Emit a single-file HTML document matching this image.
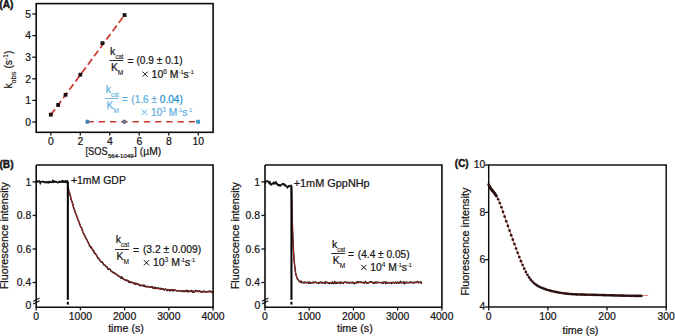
<!DOCTYPE html>
<html><head><meta charset="utf-8"><style>
html,body{margin:0;padding:0;background:#fff;}
svg{display:block;font-family:"Liberation Sans", sans-serif;}
text{stroke-width:0.22px;}
tspan[font-size]{stroke-width:0.1px;}
</style></head><body>
<svg width="675" height="336" viewBox="0 0 675 336">
<rect width="675" height="336" fill="#fff"/>
<text x="-0.70" y="8.30" font-size="10.2" text-anchor="start" fill="#161414" stroke="#161414" font-weight="bold" style="stroke-width:0.4px">(A)</text>
<rect x="36.2" y="3.6" width="176.89999999999998" height="128.70000000000002" fill="none" stroke="#0c0c0c" stroke-width="1.6"/>
<line x1="32.30" y1="122.00" x2="36.20" y2="122.00" stroke="#161414" stroke-width="1.3"/>
<text x="31.00" y="125.70" font-size="10.4" text-anchor="end" fill="#161414" stroke="#161414">0</text>
<line x1="32.30" y1="100.40" x2="36.20" y2="100.40" stroke="#161414" stroke-width="1.3"/>
<text x="31.00" y="104.10" font-size="10.4" text-anchor="end" fill="#161414" stroke="#161414">1</text>
<line x1="32.30" y1="78.80" x2="36.20" y2="78.80" stroke="#161414" stroke-width="1.3"/>
<text x="31.00" y="82.50" font-size="10.4" text-anchor="end" fill="#161414" stroke="#161414">2</text>
<line x1="32.30" y1="57.20" x2="36.20" y2="57.20" stroke="#161414" stroke-width="1.3"/>
<text x="31.00" y="60.90" font-size="10.4" text-anchor="end" fill="#161414" stroke="#161414">3</text>
<line x1="32.30" y1="35.60" x2="36.20" y2="35.60" stroke="#161414" stroke-width="1.3"/>
<text x="31.00" y="39.30" font-size="10.4" text-anchor="end" fill="#161414" stroke="#161414">4</text>
<line x1="32.30" y1="14.00" x2="36.20" y2="14.00" stroke="#161414" stroke-width="1.3"/>
<text x="31.00" y="17.70" font-size="10.4" text-anchor="end" fill="#161414" stroke="#161414">5</text>
<line x1="50.80" y1="132.30" x2="50.80" y2="135.60" stroke="#161414" stroke-width="1.3"/>
<text x="50.80" y="144.60" font-size="10.4" text-anchor="middle" fill="#161414" stroke="#161414">0</text>
<line x1="80.30" y1="132.30" x2="80.30" y2="135.60" stroke="#161414" stroke-width="1.3"/>
<text x="80.30" y="144.60" font-size="10.4" text-anchor="middle" fill="#161414" stroke="#161414">2</text>
<line x1="109.80" y1="132.30" x2="109.80" y2="135.60" stroke="#161414" stroke-width="1.3"/>
<text x="109.80" y="144.60" font-size="10.4" text-anchor="middle" fill="#161414" stroke="#161414">4</text>
<line x1="139.30" y1="132.30" x2="139.30" y2="135.60" stroke="#161414" stroke-width="1.3"/>
<text x="139.30" y="144.60" font-size="10.4" text-anchor="middle" fill="#161414" stroke="#161414">6</text>
<line x1="168.80" y1="132.30" x2="168.80" y2="135.60" stroke="#161414" stroke-width="1.3"/>
<text x="168.80" y="144.60" font-size="10.4" text-anchor="middle" fill="#161414" stroke="#161414">8</text>
<line x1="198.30" y1="132.30" x2="198.30" y2="135.60" stroke="#161414" stroke-width="1.3"/>
<text x="198.30" y="144.60" font-size="10.4" text-anchor="middle" fill="#161414" stroke="#161414">10</text>
<text x="85.40" y="154.90" font-size="10.4" text-anchor="start" fill="#161414" stroke="#161414" textLength="22.2" lengthAdjust="spacingAndGlyphs">[SOS</text>
<text x="107.90" y="158.00" font-size="6.2" text-anchor="start" fill="#161414" stroke="#161414" textLength="25.8" lengthAdjust="spacingAndGlyphs">564-1049</text>
<text x="134.00" y="154.90" font-size="10.4" text-anchor="start" fill="#161414" stroke="#161414" textLength="27.2" lengthAdjust="spacingAndGlyphs">] (µM)</text>
<text transform="translate(11.8,88.6) rotate(-90)" font-size="10.4" fill="#161414" stroke="#161414">k<tspan font-size="7.4" dy="4.0">obs</tspan><tspan dy="-4.0"> (s</tspan><tspan font-size="6.6" dy="-3.5">-1</tspan><tspan dy="3.5">)</tspan></text>
<line x1="50.80" y1="114.87" x2="124.99" y2="14.43" stroke="#cc3529" stroke-width="1.7" stroke-dasharray="7 3.4"/>
<line x1="87.50" y1="121.78" x2="195.10" y2="121.78" stroke="#cc3529" stroke-width="1.6" stroke-dasharray="6.3 4.95"/>
<rect x="48.90" y="112.76" width="3.8" height="3.8" fill="#1a0e0e"/>
<rect x="56.27" y="103.04" width="3.8" height="3.8" fill="#1a0e0e"/>
<rect x="63.65" y="92.88" width="3.8" height="3.8" fill="#1a0e0e"/>
<rect x="78.40" y="72.80" width="3.8" height="3.8" fill="#1a0e0e"/>
<rect x="100.52" y="41.26" width="3.8" height="3.8" fill="#1a0e0e"/>
<rect x="122.65" y="13.18" width="3.8" height="3.8" fill="#1a0e0e"/>
<circle cx="87.47" cy="121.68" r="2.2" fill="#4a86b4"/>
<circle cx="124.35" cy="121.68" r="2.2" fill="#70708c"/>
<circle cx="198.10" cy="121.68" r="2.2" fill="#3a9dcc"/>
<text x="110.10" y="54.80" font-size="10.6" fill="#161414" stroke="#161414">k<tspan font-size="6.6" dy="3.9" textLength="8.0" lengthAdjust="spacingAndGlyphs">cat</tspan></text>
<line x1="109.40" y1="60.50" x2="123.20" y2="60.50" stroke="#161414" stroke-width="0.9"/>
<text x="110.90" y="71.00" font-size="10.4" fill="#161414" stroke="#161414">K<tspan font-size="6.6" dy="4.1">M</tspan></text>
<text x="127.60" y="65.20" font-size="10.4" fill="#161414" stroke="#161414" textLength="6" lengthAdjust="spacingAndGlyphs">=</text>
<text x="136.50" y="64.40" font-size="10" text-anchor="start" fill="#161414" stroke="#161414" textLength="46.1" lengthAdjust="spacingAndGlyphs">(0.9 ± 0.1)</text>
<line x1="142.50" y1="71.60" x2="147.70" y2="76.80" stroke="#161414" stroke-width="1.0"/>
<line x1="142.50" y1="76.80" x2="147.70" y2="71.60" stroke="#161414" stroke-width="1.0"/>
<text x="151.60" y="77.60" font-size="10.4" fill="#161414" stroke="#161414" textLength="42.20" lengthAdjust="spacingAndGlyphs">10<tspan font-size="6.6" dy="-3.8">6</tspan><tspan dy="3.8"> M</tspan><tspan font-size="5.6" dy="-3.9">-1</tspan><tspan dy="3.9">s</tspan><tspan font-size="5.6" dy="-3.9">-1</tspan></text>
<text x="105.70" y="92.90" font-size="10.6" fill="#60b0dc" stroke="#60b0dc">k<tspan font-size="6.6" dy="3.9" textLength="8.0" lengthAdjust="spacingAndGlyphs">cat</tspan></text>
<line x1="105.00" y1="98.50" x2="118.70" y2="98.50" stroke="#60b0dc" stroke-width="0.9"/>
<text x="106.50" y="109.10" font-size="10.4" fill="#60b0dc" stroke="#60b0dc">K<tspan font-size="6.6" dy="4.1">M</tspan></text>
<text x="121.80" y="103.30" font-size="10.4" fill="#60b0dc" stroke="#60b0dc" textLength="6" lengthAdjust="spacingAndGlyphs">=</text>
<text x="131.30" y="102.50" font-size="10" fill="#60b0dc" stroke="#60b0dc" textLength="51.5" lengthAdjust="spacingAndGlyphs">(1.6 ± <tspan fill="#1a8dcc" stroke="#1a8dcc">0.04)</tspan></text>
<line x1="141.80" y1="109.70" x2="147.00" y2="114.90" stroke="#60b0dc" stroke-width="1.0"/>
<line x1="141.80" y1="114.90" x2="147.00" y2="109.70" stroke="#60b0dc" stroke-width="1.0"/>
<text x="150.90" y="115.70" font-size="10.4" fill="#60b0dc" stroke="#60b0dc" textLength="41.40" lengthAdjust="spacingAndGlyphs">10<tspan font-size="6.6" dy="-3.8">3</tspan><tspan dy="3.8"> M</tspan><tspan font-size="5.6" dy="-3.9">-1</tspan><tspan dy="3.9">s</tspan><tspan font-size="5.6" dy="-3.9">-1</tspan></text>
<text x="-0.60" y="168.10" font-size="10.2" text-anchor="start" fill="#161414" stroke="#161414" font-weight="bold" style="stroke-width:0.4px">(B)</text>
<path d="M36.2,165.0 L213.1,165.0 L213.1,307.3 L36.2,307.3 L36.2,165.0" fill="none" stroke="#0c0c0c" stroke-width="1.6"/>
<line x1="33.20" y1="301.20" x2="39.60" y2="297.90" stroke="#161414" stroke-width="1.15"/>
<line x1="33.20" y1="304.00" x2="39.60" y2="300.70" stroke="#161414" stroke-width="1.15"/>
<line x1="32.60" y1="181.90" x2="36.20" y2="181.90" stroke="#161414" stroke-width="1.3"/>
<text x="31.20" y="185.60" font-size="10.4" text-anchor="end" fill="#161414" stroke="#161414">1</text>
<line x1="32.60" y1="215.44" x2="36.20" y2="215.44" stroke="#161414" stroke-width="1.3"/>
<text x="31.20" y="219.14" font-size="10.4" text-anchor="end" fill="#161414" stroke="#161414">0.8</text>
<line x1="32.60" y1="248.98" x2="36.20" y2="248.98" stroke="#161414" stroke-width="1.3"/>
<text x="31.20" y="252.68" font-size="10.4" text-anchor="end" fill="#161414" stroke="#161414">0.6</text>
<line x1="32.60" y1="282.52" x2="36.20" y2="282.52" stroke="#161414" stroke-width="1.3"/>
<text x="31.20" y="286.22" font-size="10.4" text-anchor="end" fill="#161414" stroke="#161414">0.4</text>
<text x="31.40" y="308.90" font-size="10.4" text-anchor="end" fill="#161414" stroke="#161414">0</text>
<line x1="36.20" y1="307.30" x2="36.20" y2="310.40" stroke="#161414" stroke-width="1.3"/>
<text x="36.20" y="320.00" font-size="10.4" text-anchor="middle" fill="#161414" stroke="#161414">0</text>
<line x1="80.42" y1="307.30" x2="80.42" y2="310.40" stroke="#161414" stroke-width="1.3"/>
<text x="80.42" y="320.00" font-size="10.4" text-anchor="middle" fill="#161414" stroke="#161414">1000</text>
<line x1="124.64" y1="307.30" x2="124.64" y2="310.40" stroke="#161414" stroke-width="1.3"/>
<text x="124.64" y="320.00" font-size="10.4" text-anchor="middle" fill="#161414" stroke="#161414">2000</text>
<line x1="168.86" y1="307.30" x2="168.86" y2="310.40" stroke="#161414" stroke-width="1.3"/>
<text x="168.86" y="320.00" font-size="10.4" text-anchor="middle" fill="#161414" stroke="#161414">3000</text>
<line x1="213.08" y1="307.30" x2="213.08" y2="310.40" stroke="#161414" stroke-width="1.3"/>
<text x="213.08" y="320.00" font-size="10.4" text-anchor="middle" fill="#161414" stroke="#161414">4000</text>
<text x="126.05" y="331.90" font-size="10.4" text-anchor="middle" fill="#161414" stroke="#161414" textLength="35.8" lengthAdjust="spacingAndGlyphs">time (s)</text>
<text transform="translate(8.00,235.7) rotate(-90)" font-size="10.9" text-anchor="middle" fill="#161414" stroke="#161414" textLength="107.2" lengthAdjust="spacingAndGlyphs">Fluorescence intensity</text>
<path d="M36.20,183.12 L36.66,180.37 L37.12,182.15 L37.57,181.56 L38.03,181.63 L38.49,181.77 L38.95,180.69 L39.41,181.76 L39.87,181.38 L40.32,183.89 L40.78,182.04 L41.24,181.69 L41.70,181.73 L42.16,181.50 L42.62,181.27 L43.07,181.67 L43.53,182.19 L43.99,181.76 L44.45,182.47 L44.91,181.78 L45.36,181.91 L45.82,182.83 L46.28,182.23 L46.74,181.60 L47.20,181.79 L47.66,182.22 L48.11,183.06 L48.57,181.74 L49.03,181.75 L49.49,182.50 L49.95,181.37 L50.40,181.72 L50.86,182.43 L51.32,182.25 L51.78,181.95 L52.24,182.30 L52.70,180.20 L53.15,182.51 L53.61,181.32 L54.07,180.90 L54.53,182.07 L54.99,182.32 L55.45,181.63 L55.90,181.25 L56.36,181.92 L56.82,181.87 L57.28,182.74 L57.74,182.35 L58.19,182.02 L58.65,182.57 L59.11,181.78 L59.57,181.34 L60.03,182.25 L60.49,182.25 L60.94,181.77 L61.40,181.43 L61.86,182.04 L62.32,180.40 L62.78,182.31 L63.24,182.19 L63.69,180.92 L64.15,181.94 L64.61,181.32 L65.07,182.35 L65.53,180.68 L65.98,181.35 L66.44,182.33 L66.90,182.59 L67.36,180.61 L67.82,181.60" fill="none" stroke="#111" stroke-width="1.5" stroke-linejoin="round"/>
<path d="M67.82,187.08 L68.38,188.80 L68.94,191.89 L69.50,192.70 L70.06,195.41 L70.62,196.76 L71.18,199.80 L71.74,201.05 L72.30,202.75 L72.87,203.97 L73.43,207.28 L73.99,208.61 L74.55,210.32 L75.11,212.17 L75.67,213.46 L76.23,214.62 L76.79,216.13 L77.35,217.67 L77.91,220.16 L78.47,220.37 L79.03,222.21 L79.60,223.75 L80.16,225.39 L80.72,226.92 L81.28,227.43 L81.84,228.53 L82.40,230.59 L82.96,232.39 L83.52,233.42 L84.08,234.38 L84.64,235.32 L85.20,236.76 L85.76,237.65 L86.33,239.24 L86.89,239.60 L87.45,241.09 L88.01,242.02 L88.57,243.34 L89.13,244.20 L89.69,246.23 L90.25,246.72 L90.81,247.66 L91.37,246.99 L91.93,248.66 L92.50,249.43 L93.06,250.81 L93.62,250.40 L94.18,252.78 L94.74,253.55 L95.30,253.29 L95.86,254.22 L96.42,255.06 L96.98,256.20 L97.54,257.20 L98.10,258.56 L98.66,258.25 L99.23,259.38 L99.79,259.78 L100.35,261.17 L100.91,261.37 L101.47,262.29 L102.03,261.81 L102.59,262.82 L103.15,263.14 L103.71,264.77 L104.27,264.97 L104.83,265.10 L105.39,265.58 L105.96,266.55 L106.52,266.54 L107.08,266.96 L107.64,268.11 L108.20,269.50 L108.76,268.77 L109.32,269.10 L109.88,269.30 L110.44,269.68 L111.00,270.97 L111.56,271.56 L112.13,271.61 L112.69,272.18 L113.25,272.50 L113.81,272.91 L114.37,272.56 L114.93,273.43 L115.49,274.07 L116.05,274.04 L116.61,274.55 L117.17,274.75 L117.73,275.32 L118.29,276.20 L118.86,275.97 L119.42,276.41 L119.98,277.17 L120.54,277.42 L121.10,278.20 L121.66,276.80 L122.22,278.42 L122.78,278.11 L123.34,278.68 L123.90,279.28 L124.46,279.66 L125.03,279.91 L125.59,279.78 L126.15,280.69 L126.71,280.09 L127.27,280.40 L127.83,281.07 L128.39,280.70 L128.95,282.15 L129.51,281.87 L130.07,282.61 L130.63,281.84 L131.19,281.89 L131.76,282.35 L132.32,282.81 L132.88,282.42 L133.44,283.05 L134.00,283.07 L134.56,283.99 L135.12,283.15 L135.68,284.11 L136.24,283.52 L136.80,283.56 L137.36,283.84 L137.92,283.79 L138.49,284.56 L139.05,285.12 L139.61,284.89 L140.17,285.25 L140.73,285.85 L141.29,285.39 L141.85,285.50 L142.41,285.43 L142.97,284.97 L143.53,286.17 L144.09,285.17 L144.66,286.39 L145.22,286.22 L145.78,286.86 L146.34,286.44 L146.90,286.22 L147.46,286.87 L148.02,286.58 L148.58,286.86 L149.14,287.07 L149.70,287.10 L150.26,287.18 L150.82,287.00 L151.39,287.39 L151.95,286.61 L152.51,287.60 L153.07,287.23 L153.63,288.37 L154.19,288.53 L154.75,287.17 L155.31,288.20 L155.87,288.17 L156.43,287.84 L156.99,288.63 L157.55,288.27 L158.12,287.76 L158.68,288.51 L159.24,288.64 L159.80,288.83 L160.36,288.31 L160.92,289.21 L161.48,289.33 L162.04,288.56 L162.60,288.84 L163.16,289.17 L163.72,289.02 L164.29,290.12 L164.85,289.49 L165.41,289.00 L165.97,289.17 L166.53,289.55 L167.09,290.67 L167.65,289.61 L168.21,289.81 L168.77,290.03 L169.33,289.84 L169.89,290.93 L170.45,289.72 L171.02,290.34 L171.58,290.13 L172.14,290.38 L172.70,289.62 L173.26,290.99 L173.82,290.19 L174.38,290.30 L174.94,289.91 L175.50,290.04 L176.06,290.67 L176.62,290.90 L177.18,290.83 L177.75,291.08 L178.31,290.89 L178.87,290.62 L179.43,291.02 L179.99,290.95 L180.55,290.67 L181.11,291.08 L181.67,291.36 L182.23,290.92 L182.79,290.69 L183.35,291.21 L183.92,291.77 L184.48,290.85 L185.04,290.93 L185.60,290.94 L186.16,291.58 L186.72,290.23 L187.28,291.25 L187.84,291.65 L188.40,290.78 L188.96,291.84 L189.52,291.43 L190.08,290.97 L190.65,291.33 L191.21,290.58 L191.77,291.03 L192.33,292.13 L192.89,290.93 L193.45,292.19 L194.01,291.34 L194.57,291.85 L195.13,291.44 L195.69,290.43 L196.25,291.20 L196.82,291.56 L197.38,290.98 L197.94,290.91 L198.50,291.70 L199.06,291.26 L199.62,290.81 L200.18,291.28 L200.74,291.99 L201.30,291.41 L201.86,292.06 L202.42,292.34 L202.98,291.68 L203.55,291.18 L204.11,291.11 L204.67,291.70 L205.23,292.12 L205.79,291.86 L206.35,292.00 L206.91,291.57 L207.47,291.92 L208.03,291.58 L208.59,291.66 L209.15,291.24 L209.71,291.12 L210.28,291.63 L210.84,291.36 L211.40,291.43 L211.96,292.18 L212.52,291.84 L213.08,293.21" fill="none" stroke="#1a1010" stroke-width="1.5" stroke-linejoin="round"/>
<path d="M67.82,186.93 L68.55,189.71 L69.28,192.42 L70.01,195.06 L70.74,197.63 L71.47,200.13 L72.20,202.57 L72.93,204.94 L73.66,207.25 L74.39,209.49 L75.12,211.68 L75.85,213.81 L76.58,215.89 L77.31,217.91 L78.04,219.87 L78.77,221.79 L79.50,223.65 L80.23,225.47 L80.96,227.23 L81.69,228.95 L82.42,230.63 L83.15,232.26 L83.88,233.84 L84.61,235.39 L85.34,236.89 L86.07,238.36 L86.80,239.79 L87.53,241.17 L88.26,242.53 L88.99,243.84 L89.72,245.12 L90.45,246.37 L91.18,247.59 L91.91,248.77 L92.64,249.92 L93.37,251.04 L94.10,252.14 L94.83,253.20 L95.56,254.23 L96.29,255.24 L97.02,256.22 L97.75,257.18 L98.48,258.11 L99.21,259.01 L99.94,259.89 L100.67,260.75 L101.40,261.59 L102.13,262.40 L102.86,263.19 L103.59,263.96 L104.32,264.71 L105.05,265.44 L105.78,266.16 L106.51,266.85 L107.24,267.52 L107.97,268.18 L108.70,268.82 L109.43,269.44 L110.16,270.05 L110.89,270.64 L111.62,271.21 L112.35,271.77 L113.08,272.32 L113.80,272.85 L114.53,273.36 L115.26,273.87 L115.99,274.36 L116.72,274.83 L117.45,275.30 L118.18,275.75 L118.91,276.19 L119.64,276.62 L120.37,277.03 L121.10,277.44 L121.83,277.83 L122.56,278.22 L123.29,278.59 L124.02,278.96 L124.75,279.31 L125.48,279.66 L126.21,280.00 L126.94,280.32 L127.67,280.64 L128.40,280.95 L129.13,281.26 L129.86,281.55 L130.59,281.84 L131.32,282.12 L132.05,282.39 L132.78,282.65 L133.51,282.91 L134.24,283.16 L134.97,283.40 L135.70,283.64 L136.43,283.87 L137.16,284.10 L137.89,284.32 L138.62,284.53 L139.35,284.74 L140.08,284.94 L140.81,285.14 L141.54,285.33 L142.27,285.52 L143.00,285.70 L143.73,285.88 L144.46,286.05 L145.19,286.22 L145.92,286.38 L146.65,286.54 L147.38,286.70 L148.11,286.85 L148.84,286.99 L149.57,287.14 L150.30,287.28 L151.03,287.41 L151.76,287.54 L152.49,287.67 L153.22,287.80 L153.95,287.92 L154.68,288.04 L155.41,288.15 L156.14,288.27 L156.87,288.38 L157.60,288.48 L158.33,288.59 L159.06,288.69 L159.79,288.79 L160.52,288.88 L161.25,288.97 L161.98,289.06 L162.71,289.15 L163.44,289.24 L164.17,289.32 L164.90,289.40 L165.63,289.48 L166.36,289.56 L167.09,289.64 L167.82,289.71 L168.55,289.78 L169.28,289.85 L170.01,289.92 L170.74,289.98 L171.47,290.05 L172.20,290.11 L172.93,290.17 L173.66,290.23 L174.39,290.29 L175.12,290.34 L175.85,290.40 L176.58,290.45 L177.31,290.50 L178.04,290.55 L178.77,290.60 L179.50,290.65 L180.23,290.70 L180.96,290.74 L181.69,290.79 L182.42,290.83 L183.15,290.87 L183.88,290.91 L184.61,290.95 L185.34,290.99 L186.07,291.03 L186.80,291.07 L187.53,291.10 L188.26,291.14 L188.99,291.17 L189.72,291.20 L190.45,291.23 L191.18,291.27 L191.91,291.30 L192.64,291.32 L193.37,291.35 L194.10,291.38 L194.83,291.41 L195.56,291.44 L196.29,291.46 L197.02,291.49 L197.75,291.51 L198.48,291.53 L199.21,291.56 L199.94,291.58 L200.67,291.60 L201.40,291.62 L202.13,291.64 L202.86,291.67 L203.59,291.68 L204.32,291.70 L205.05,291.72 L205.78,291.74 L206.51,291.76 L207.24,291.78 L207.97,291.79 L208.70,291.81 L209.43,291.83 L210.16,291.84 L210.89,291.86 L211.62,291.87 L212.35,291.89 L213.08,291.90" fill="none" stroke="#b02a25" stroke-width="1.0" stroke-linejoin="round"/>
<line x1="67.82" y1="181.60" x2="67.82" y2="299.80" stroke="#000" stroke-width="2.0"/>
<line x1="67.82" y1="301.80" x2="67.82" y2="304.60" stroke="#000" stroke-width="2.0"/>
<text x="70.90" y="183.60" font-size="10.4" text-anchor="start" fill="#161414" stroke="#161414" textLength="55" lengthAdjust="spacingAndGlyphs">+1mM GDP</text>
<text x="115.80" y="243.40" font-size="10.6" fill="#161414" stroke="#161414">k<tspan font-size="6.6" dy="3.9" textLength="8.0" lengthAdjust="spacingAndGlyphs">cat</tspan></text>
<line x1="115.10" y1="249.50" x2="128.90" y2="249.50" stroke="#161414" stroke-width="0.9"/>
<text x="116.60" y="259.60" font-size="10.4" fill="#161414" stroke="#161414">K<tspan font-size="6.6" dy="4.1">M</tspan></text>
<text x="132.90" y="253.80" font-size="10.4" fill="#161414" stroke="#161414" textLength="6" lengthAdjust="spacingAndGlyphs">=</text>
<text x="142.90" y="253.00" font-size="10" text-anchor="start" fill="#161414" stroke="#161414" textLength="58.2" lengthAdjust="spacingAndGlyphs">(3.2 ± 0.009)</text>
<line x1="143.90" y1="260.20" x2="149.10" y2="265.40" stroke="#161414" stroke-width="1.0"/>
<line x1="143.90" y1="265.40" x2="149.10" y2="260.20" stroke="#161414" stroke-width="1.0"/>
<text x="153.00" y="266.20" font-size="10.4" fill="#161414" stroke="#161414" textLength="42.20" lengthAdjust="spacingAndGlyphs">10<tspan font-size="6.6" dy="-3.8">3</tspan><tspan dy="3.8"> M</tspan><tspan font-size="5.6" dy="-3.9">-1</tspan><tspan dy="3.9">s</tspan><tspan font-size="5.6" dy="-3.9">-1</tspan></text>
<path d="M265.0,165.0 L441.9,165.0 L441.9,307.3 L265.0,307.3 L265.0,165.0" fill="none" stroke="#0c0c0c" stroke-width="1.6"/>
<line x1="262.00" y1="301.20" x2="268.40" y2="297.90" stroke="#161414" stroke-width="1.15"/>
<line x1="262.00" y1="304.00" x2="268.40" y2="300.70" stroke="#161414" stroke-width="1.15"/>
<line x1="261.40" y1="181.90" x2="265.00" y2="181.90" stroke="#161414" stroke-width="1.3"/>
<text x="260.00" y="185.60" font-size="10.4" text-anchor="end" fill="#161414" stroke="#161414">1</text>
<line x1="261.40" y1="215.44" x2="265.00" y2="215.44" stroke="#161414" stroke-width="1.3"/>
<text x="260.00" y="219.14" font-size="10.4" text-anchor="end" fill="#161414" stroke="#161414">0.8</text>
<line x1="261.40" y1="248.98" x2="265.00" y2="248.98" stroke="#161414" stroke-width="1.3"/>
<text x="260.00" y="252.68" font-size="10.4" text-anchor="end" fill="#161414" stroke="#161414">0.6</text>
<line x1="261.40" y1="282.52" x2="265.00" y2="282.52" stroke="#161414" stroke-width="1.3"/>
<text x="260.00" y="286.22" font-size="10.4" text-anchor="end" fill="#161414" stroke="#161414">0.4</text>
<text x="260.20" y="308.90" font-size="10.4" text-anchor="end" fill="#161414" stroke="#161414">0</text>
<line x1="265.00" y1="307.30" x2="265.00" y2="310.40" stroke="#161414" stroke-width="1.3"/>
<text x="265.00" y="320.00" font-size="10.4" text-anchor="middle" fill="#161414" stroke="#161414">0</text>
<line x1="309.22" y1="307.30" x2="309.22" y2="310.40" stroke="#161414" stroke-width="1.3"/>
<text x="309.22" y="320.00" font-size="10.4" text-anchor="middle" fill="#161414" stroke="#161414">1000</text>
<line x1="353.44" y1="307.30" x2="353.44" y2="310.40" stroke="#161414" stroke-width="1.3"/>
<text x="353.44" y="320.00" font-size="10.4" text-anchor="middle" fill="#161414" stroke="#161414">2000</text>
<line x1="397.66" y1="307.30" x2="397.66" y2="310.40" stroke="#161414" stroke-width="1.3"/>
<text x="397.66" y="320.00" font-size="10.4" text-anchor="middle" fill="#161414" stroke="#161414">3000</text>
<line x1="441.88" y1="307.30" x2="441.88" y2="310.40" stroke="#161414" stroke-width="1.3"/>
<text x="441.88" y="320.00" font-size="10.4" text-anchor="middle" fill="#161414" stroke="#161414">4000</text>
<text x="354.85" y="331.90" font-size="10.4" text-anchor="middle" fill="#161414" stroke="#161414" textLength="35.8" lengthAdjust="spacingAndGlyphs">time (s)</text>
<text transform="translate(239.00,235.7) rotate(-90)" font-size="10.9" text-anchor="middle" fill="#161414" stroke="#161414" textLength="107.2" lengthAdjust="spacingAndGlyphs">Fluorescence intensity</text>
<path d="M265.00,181.68 L265.38,183.46 L265.77,181.57 L266.15,181.68 L266.53,181.02 L266.92,180.75 L267.30,181.28 L267.68,181.52 L268.07,181.29 L268.45,181.29 L268.83,182.95 L269.22,182.22 L269.60,183.88 L269.98,181.64 L270.37,184.10 L270.75,184.39 L271.13,183.91 L271.52,185.05 L271.90,184.04 L272.28,183.87 L272.66,183.37 L273.05,183.65 L273.43,182.31 L273.81,183.95 L274.20,182.83 L274.58,183.08 L274.96,183.78 L275.35,182.46 L275.73,181.67 L276.11,183.05 L276.50,183.98 L276.88,183.09 L277.26,184.20 L277.65,185.00 L278.03,185.47 L278.41,184.54 L278.80,185.36 L279.18,185.77 L279.56,184.74 L279.95,185.71 L280.33,185.08 L280.71,185.91 L281.10,184.77 L281.48,184.47 L281.86,184.48 L282.25,184.13 L282.63,183.54 L283.01,183.59 L283.40,184.31 L283.78,183.76 L284.16,185.35 L284.55,184.31 L284.93,185.77 L285.31,185.14 L285.69,186.05 L286.08,185.43 L286.46,186.61 L286.84,186.49 L287.23,186.93 L287.61,187.91 L287.99,186.39 L288.38,187.01 L288.76,185.83 L289.14,185.72 L289.53,186.29 L289.91,185.81 L290.29,186.03 L290.68,185.84 L291.06,185.27 L291.44,185.49" fill="none" stroke="#111" stroke-width="1.5" stroke-linejoin="round"/>
<path d="M291.44,187.65 L291.95,210.43 L292.45,227.91 L292.96,240.44 L293.46,251.27 L293.96,258.21 L294.47,264.00 L294.97,267.80 L295.48,272.16 L295.98,275.01 L296.48,276.09 L296.99,277.99 L297.49,279.08 L298.00,279.36 L298.50,280.43 L299.00,281.12 L299.51,281.46 L300.01,282.05 L300.52,281.64 L301.02,281.01 L301.52,282.51 L302.03,282.25 L302.53,282.48 L303.04,282.81 L303.54,282.76 L304.04,282.45 L304.55,282.01 L305.05,282.98 L305.56,282.40 L306.06,282.64 L306.56,282.57 L307.07,282.41 L307.57,282.34 L308.08,282.04 L308.58,283.36 L309.08,282.52 L309.59,282.15 L310.09,283.31 L310.60,283.13 L311.10,282.56 L311.60,282.92 L312.11,282.54 L312.61,282.79 L313.12,282.13 L313.62,282.99 L314.12,282.35 L314.63,282.38 L315.13,282.26 L315.64,282.04 L316.14,282.52 L316.64,283.01 L317.15,282.71 L317.65,282.64 L318.16,282.58 L318.66,283.33 L319.16,283.01 L319.67,282.37 L320.17,282.82 L320.68,281.94 L321.18,282.42 L321.68,283.02 L322.19,283.01 L322.69,282.40 L323.20,282.81 L323.70,282.56 L324.20,282.91 L324.71,282.39 L325.21,283.43 L325.72,281.68 L326.22,282.54 L326.72,282.53 L327.23,282.31 L327.73,282.70 L328.24,283.20 L328.74,282.97 L329.24,283.58 L329.75,282.77 L330.25,282.89 L330.76,282.74 L331.26,283.30 L331.76,282.73 L332.27,281.93 L332.77,283.20 L333.28,283.47 L333.78,282.79 L334.28,283.11 L334.79,281.57 L335.29,282.40 L335.80,283.45 L336.30,282.46 L336.80,283.15 L337.31,282.19 L337.81,282.92 L338.32,282.44 L338.82,282.98 L339.32,282.37 L339.83,282.52 L340.33,283.54 L340.84,282.06 L341.34,282.47 L341.84,282.77 L342.35,282.43 L342.85,282.66 L343.36,283.38 L343.86,282.50 L344.36,282.20 L344.87,282.04 L345.37,282.12 L345.88,282.54 L346.38,282.30 L346.88,282.91 L347.39,282.46 L347.89,282.25 L348.40,282.44 L348.90,283.04 L349.40,282.95 L349.91,282.44 L350.41,282.27 L350.92,282.84 L351.42,282.72 L351.92,283.02 L352.43,282.08 L352.93,282.52 L353.44,282.97 L353.94,282.68 L354.44,283.83 L354.95,282.60 L355.45,282.42 L355.96,282.64 L356.46,282.98 L356.96,282.01 L357.47,282.67 L357.97,281.56 L358.48,282.56 L358.98,282.01 L359.48,282.19 L359.99,282.49 L360.49,281.93 L361.00,282.01 L361.50,282.29 L362.00,282.51 L362.51,282.52 L363.01,282.85 L363.52,282.40 L364.02,283.26 L364.52,282.35 L365.03,282.21 L365.53,281.64 L366.04,282.72 L366.54,283.12 L367.04,282.75 L367.55,283.04 L368.05,283.14 L368.56,282.75 L369.06,282.36 L369.56,282.57 L370.07,281.94 L370.57,282.00 L371.08,281.76 L371.58,281.80 L372.08,282.51 L372.59,282.64 L373.09,282.55 L373.60,283.33 L374.10,282.32 L374.60,283.17 L375.11,282.97 L375.61,281.98 L376.12,282.64 L376.62,283.00 L377.12,282.16 L377.63,282.59 L378.13,282.28 L378.64,282.65 L379.14,282.49 L379.64,282.38 L380.15,282.60 L380.65,282.66 L381.16,282.78 L381.66,282.76 L382.16,282.91 L382.67,282.15 L383.17,283.30 L383.68,282.31 L384.18,282.40 L384.68,282.39 L385.19,281.91 L385.69,283.44 L386.20,282.51 L386.70,282.30 L387.20,283.17 L387.71,282.97 L388.21,282.50 L388.72,282.46 L389.22,282.94 L389.72,282.85 L390.23,282.71 L390.73,282.46 L391.24,282.75 L391.74,283.53 L392.24,282.33 L392.75,282.41 L393.25,282.41 L393.76,282.42 L394.26,283.19 L394.76,282.57 L395.27,282.90 L395.77,282.03 L396.28,282.56 L396.78,283.10 L397.28,282.49 L397.79,282.06 L398.29,283.23 L398.80,282.80 L399.30,282.96 L399.80,282.57 L400.31,281.39 L400.81,282.41 L401.32,283.00 L401.82,282.35 L402.32,282.55 L402.83,282.53 L403.33,282.82 L403.84,281.73 L404.34,283.71 L404.84,283.24 L405.35,282.96 L405.85,282.36 L406.36,282.66 L406.86,282.08 L407.36,282.51 L407.87,282.84 L408.37,282.91 L408.88,282.74 L409.38,282.54 L409.88,282.03 L410.39,282.63 L410.89,281.81 L411.40,282.12 L411.90,282.36 L412.40,282.96 L412.91,282.75 L413.41,282.47 L413.92,283.02 L414.42,282.03 L414.92,282.20 L415.43,282.57 L415.93,282.27 L416.44,282.49 L416.94,282.12 L417.44,281.46 L417.95,282.02 L418.45,282.85 L418.96,282.82 L419.46,282.27 L419.96,282.19 L420.47,282.37 L420.97,281.82 L421.48,283.11 L421.98,282.85" fill="none" stroke="#1a1010" stroke-width="1.5" stroke-linejoin="round"/>
<path d="M291.44,187.77 L292.10,216.15 L292.76,236.03 L293.41,249.96 L294.07,259.71 L294.72,266.54 L295.38,271.33 L296.04,274.68 L296.69,277.03 L297.35,278.67 L298.00,279.83 L298.66,280.63 L299.32,281.20 L299.97,281.59 L300.63,281.87 L301.28,282.07 L301.94,282.20 L302.59,282.30 L303.25,282.36 L303.91,282.41 L304.56,282.44 L305.22,282.47 L305.87,282.48 L306.53,282.49 L307.19,282.50 L307.84,282.51 L308.50,282.51 L309.15,282.51 L309.81,282.52 L310.47,282.52 L311.12,282.52 L311.78,282.52 L312.43,282.52 L313.09,282.52 L313.75,282.52 L314.40,282.52 L315.06,282.52 L315.71,282.52 L316.37,282.52 L317.03,282.52 L317.68,282.52 L318.34,282.52 L318.99,282.52 L319.65,282.52 L320.31,282.52 L320.96,282.52 L321.62,282.52 L322.27,282.52 L322.93,282.52 L323.59,282.52 L324.24,282.52 L324.90,282.52 L325.55,282.52 L326.21,282.52 L326.87,282.52 L327.52,282.52 L328.18,282.52 L328.83,282.52 L329.49,282.52 L330.15,282.52 L330.80,282.52 L331.46,282.52 L332.11,282.52 L332.77,282.52 L333.43,282.52 L334.08,282.52 L334.74,282.52 L335.39,282.52 L336.05,282.52 L336.71,282.52 L337.36,282.52 L338.02,282.52 L338.67,282.52 L339.33,282.52 L339.99,282.52 L340.64,282.52 L341.30,282.52 L341.95,282.52 L342.61,282.52 L343.26,282.52 L343.92,282.52 L344.58,282.52 L345.23,282.52 L345.89,282.52 L346.54,282.52 L347.20,282.52 L347.86,282.52 L348.51,282.52 L349.17,282.52 L349.82,282.52 L350.48,282.52 L351.14,282.52 L351.79,282.52 L352.45,282.52 L353.10,282.52 L353.76,282.52 L354.42,282.52 L355.07,282.52 L355.73,282.52 L356.38,282.52 L357.04,282.52 L357.70,282.52 L358.35,282.52 L359.01,282.52 L359.66,282.52 L360.32,282.52 L360.98,282.52 L361.63,282.52 L362.29,282.52 L362.94,282.52 L363.60,282.52 L364.26,282.52 L364.91,282.52 L365.57,282.52 L366.22,282.52 L366.88,282.52 L367.54,282.52 L368.19,282.52 L368.85,282.52 L369.50,282.52 L370.16,282.52 L370.82,282.52 L371.47,282.52 L372.13,282.52 L372.78,282.52 L373.44,282.52 L374.10,282.52 L374.75,282.52 L375.41,282.52 L376.06,282.52 L376.72,282.52 L377.38,282.52 L378.03,282.52 L378.69,282.52 L379.34,282.52 L380.00,282.52 L380.66,282.52 L381.31,282.52 L381.97,282.52 L382.62,282.52 L383.28,282.52 L383.93,282.52 L384.59,282.52 L385.25,282.52 L385.90,282.52 L386.56,282.52 L387.21,282.52 L387.87,282.52 L388.53,282.52 L389.18,282.52 L389.84,282.52 L390.49,282.52 L391.15,282.52 L391.81,282.52 L392.46,282.52 L393.12,282.52 L393.77,282.52 L394.43,282.52 L395.09,282.52 L395.74,282.52 L396.40,282.52 L397.05,282.52 L397.71,282.52 L398.37,282.52 L399.02,282.52 L399.68,282.52 L400.33,282.52 L400.99,282.52 L401.65,282.52 L402.30,282.52 L402.96,282.52 L403.61,282.52 L404.27,282.52 L404.93,282.52 L405.58,282.52 L406.24,282.52 L406.89,282.52 L407.55,282.52 L408.21,282.52 L408.86,282.52 L409.52,282.52 L410.17,282.52 L410.83,282.52 L411.49,282.52 L412.14,282.52 L412.80,282.52 L413.45,282.52 L414.11,282.52 L414.77,282.52 L415.42,282.52 L416.08,282.52 L416.73,282.52 L417.39,282.52 L418.05,282.52 L418.70,282.52 L419.36,282.52 L420.01,282.52 L420.67,282.52 L421.33,282.52 L421.98,282.52" fill="none" stroke="#b02a25" stroke-width="1.0" stroke-linejoin="round"/>
<line x1="291.44" y1="185.49" x2="291.44" y2="299.80" stroke="#000" stroke-width="2.0"/>
<line x1="291.44" y1="301.80" x2="291.44" y2="304.60" stroke="#000" stroke-width="2.0"/>
<text x="293.70" y="187.30" font-size="10.4" text-anchor="start" fill="#161414" stroke="#161414" textLength="76" lengthAdjust="spacingAndGlyphs">+1mM GppNHp</text>
<text x="331.90" y="248.00" font-size="10.6" fill="#161414" stroke="#161414">k<tspan font-size="6.6" dy="3.9" textLength="8.0" lengthAdjust="spacingAndGlyphs">cat</tspan></text>
<line x1="331.20" y1="253.50" x2="345.00" y2="253.50" stroke="#161414" stroke-width="0.9"/>
<text x="332.70" y="264.20" font-size="10.4" fill="#161414" stroke="#161414">K<tspan font-size="6.6" dy="4.1">M</tspan></text>
<text x="348.10" y="258.40" font-size="10.4" fill="#161414" stroke="#161414" textLength="6" lengthAdjust="spacingAndGlyphs">=</text>
<text x="357.80" y="257.60" font-size="10" text-anchor="start" fill="#161414" stroke="#161414" textLength="51.8" lengthAdjust="spacingAndGlyphs">(4.4 ± 0.05)</text>
<line x1="361.20" y1="264.80" x2="366.40" y2="270.00" stroke="#161414" stroke-width="1.0"/>
<line x1="361.20" y1="270.00" x2="366.40" y2="264.80" stroke="#161414" stroke-width="1.0"/>
<text x="370.30" y="270.80" font-size="10.4" fill="#161414" stroke="#161414" textLength="41.60" lengthAdjust="spacingAndGlyphs">10<tspan font-size="6.6" dy="-3.8">4</tspan><tspan dy="3.8"> M</tspan><tspan font-size="5.6" dy="-3.9">-1</tspan><tspan dy="3.9">s</tspan><tspan font-size="5.6" dy="-3.9">-1</tspan></text>
<text x="454.80" y="166.60" font-size="10.0" text-anchor="start" fill="#161414" stroke="#161414" font-weight="bold" style="stroke-width:0.4px">(C)</text>
<rect x="488.7" y="165.0" width="177.50000000000006" height="142.0" fill="none" stroke="#0c0c0c" stroke-width="1.45"/>
<line x1="485.00" y1="307.00" x2="488.70" y2="307.00" stroke="#161414" stroke-width="1.3"/>
<text x="485.40" y="310.40" font-size="10.4" text-anchor="end" fill="#161414" stroke="#161414">4</text>
<line x1="485.00" y1="259.66" x2="488.70" y2="259.66" stroke="#161414" stroke-width="1.3"/>
<text x="485.40" y="263.06" font-size="10.4" text-anchor="end" fill="#161414" stroke="#161414">6</text>
<line x1="485.00" y1="212.32" x2="488.70" y2="212.32" stroke="#161414" stroke-width="1.3"/>
<text x="485.40" y="215.72" font-size="10.4" text-anchor="end" fill="#161414" stroke="#161414">8</text>
<line x1="485.00" y1="164.98" x2="488.70" y2="164.98" stroke="#161414" stroke-width="1.3"/>
<text x="485.40" y="168.38" font-size="10.4" text-anchor="end" fill="#161414" stroke="#161414">10</text>
<line x1="488.70" y1="307.00" x2="488.70" y2="310.40" stroke="#161414" stroke-width="1.3"/>
<text x="488.70" y="319.80" font-size="10.4" text-anchor="middle" fill="#161414" stroke="#161414">0</text>
<line x1="547.87" y1="307.00" x2="547.87" y2="310.40" stroke="#161414" stroke-width="1.3"/>
<text x="547.87" y="319.80" font-size="10.4" text-anchor="middle" fill="#161414" stroke="#161414">100</text>
<line x1="607.04" y1="307.00" x2="607.04" y2="310.40" stroke="#161414" stroke-width="1.3"/>
<text x="607.04" y="319.80" font-size="10.4" text-anchor="middle" fill="#161414" stroke="#161414">200</text>
<line x1="666.21" y1="307.00" x2="666.21" y2="310.40" stroke="#161414" stroke-width="1.3"/>
<text x="666.21" y="319.80" font-size="10.4" text-anchor="middle" fill="#161414" stroke="#161414">300</text>
<text x="580.40" y="334.00" font-size="10.4" text-anchor="middle" fill="#161414" stroke="#161414" textLength="36.0" lengthAdjust="spacingAndGlyphs">time (s)</text>
<text transform="translate(469.2,241.7) rotate(-90)" font-size="10.9" text-anchor="middle" fill="#161414" stroke="#161414" textLength="108.2" lengthAdjust="spacingAndGlyphs">Fluorescence intensity</text>
<path d="M488.70,184.14 L489.23,185.37 L489.77,186.44 L490.30,187.39 L490.83,188.23 L491.37,188.98 L491.90,189.67 L492.43,190.31 L492.97,190.94 L493.50,191.56 L494.03,192.21 L494.57,192.90 L495.10,193.63 L495.63,194.42 L496.17,195.25 L496.70,196.15 L497.23,197.10 L497.77,198.13 L498.30,199.22 L498.83,200.38 L499.37,201.62 L499.90,202.93 L500.43,204.29 L500.97,205.71 L501.50,207.16 L502.03,208.65 L502.57,210.17 L503.10,211.71 L503.63,213.25 L504.17,214.80 L504.70,216.35 L505.23,217.89 L505.77,219.43 L506.30,220.96 L506.83,222.49 L507.37,224.02 L507.90,225.54 L508.43,227.06 L508.97,228.57 L509.50,230.08 L510.03,231.58 L510.57,233.08 L511.10,234.58 L511.63,236.06 L512.17,237.55 L512.70,239.02 L513.23,240.49 L513.77,241.96 L514.30,243.42 L514.83,244.87 L515.37,246.32 L515.90,247.76 L516.43,249.19 L516.97,250.62 L517.50,252.03 L518.03,253.43 L518.57,254.82 L519.10,256.20 L519.63,257.56 L520.17,258.90 L520.70,260.22 L521.23,261.51 L521.77,262.79 L522.30,264.04 L522.83,265.26 L523.37,266.46 L523.90,267.62 L524.43,268.75 L524.97,269.85 L525.50,270.92 L526.03,271.95 L526.57,272.94 L527.10,273.89 L527.63,274.80 L528.17,275.67 L528.70,276.49 L529.23,277.28 L529.77,278.03 L530.30,278.74 L530.83,279.41 L531.37,280.05 L531.90,280.66 L532.43,281.24 L532.97,281.78 L533.50,282.30 L534.03,282.79 L534.57,283.25 L535.10,283.68 L535.63,284.09 L536.17,284.48 L536.70,284.84 L537.23,285.19 L537.77,285.51 L538.30,285.82 L538.83,286.11 L539.37,286.39 L539.90,286.65 L540.43,286.90 L540.97,287.13 L541.50,287.36 L542.03,287.58 L542.57,287.78 L543.10,287.99 L543.63,288.18 L544.17,288.38 L544.70,288.56 L545.23,288.75 L545.77,288.93 L546.30,289.10 L546.83,289.27 L547.37,289.44 L547.90,289.61 L548.43,289.77 L548.97,289.92 L549.50,290.07 L550.03,290.22 L550.57,290.37 L551.10,290.51 L551.63,290.65 L552.17,290.78 L552.70,290.91 L553.23,291.04 L553.77,291.16 L554.30,291.28 L554.83,291.40 L555.37,291.52 L555.90,291.63 L556.43,291.74 L556.97,291.84 L557.50,291.94 L558.03,292.04 L558.57,292.14 L559.10,292.23 L559.63,292.32 L560.17,292.41 L560.70,292.49 L561.23,292.57 L561.77,292.65 L562.30,292.73 L562.83,292.80 L563.37,292.87 L563.90,292.94 L564.43,293.01 L564.96,293.08 L565.50,293.14 L566.03,293.20 L566.56,293.26 L567.10,293.31 L567.63,293.36 L568.16,293.42 L568.70,293.47 L569.23,293.51 L569.76,293.56 L570.30,293.60 L570.83,293.65 L571.36,293.69 L571.90,293.72 L572.43,293.76 L572.96,293.80 L573.50,293.83 L574.03,293.86 L574.56,293.89 L575.10,293.92 L575.63,293.95 L576.16,293.98 L576.70,294.00 L577.23,294.03 L577.76,294.05 L578.30,294.07 L578.83,294.10 L579.36,294.12 L579.90,294.13 L580.43,294.15 L580.96,294.17 L581.50,294.19 L582.03,294.20 L582.56,294.22 L583.10,294.23 L583.63,294.25 L584.16,294.26 L584.70,294.27 L585.23,294.29 L585.76,294.30 L586.30,294.31 L586.83,294.32 L587.36,294.33 L587.90,294.34 L588.43,294.35 L588.96,294.37 L589.50,294.38 L590.03,294.39 L590.56,294.40 L591.10,294.41 L591.63,294.42 L592.16,294.43 L592.70,294.44 L593.23,294.45 L593.76,294.47 L594.30,294.48 L594.83,294.49 L595.36,294.50 L595.90,294.52 L596.43,294.53 L596.96,294.54 L597.50,294.56 L598.03,294.57 L598.56,294.58 L599.10,294.60 L599.63,294.61 L600.16,294.63 L600.70,294.64 L601.23,294.66 L601.76,294.67 L602.30,294.69 L602.83,294.70 L603.36,294.72 L603.90,294.73 L604.43,294.75 L604.96,294.76 L605.50,294.78 L606.03,294.79 L606.56,294.81 L607.10,294.82 L607.63,294.84 L608.16,294.86 L608.70,294.87 L609.23,294.89 L609.76,294.90 L610.30,294.92 L610.83,294.93 L611.36,294.95 L611.90,294.97 L612.43,294.98 L612.96,295.00 L613.50,295.01 L614.03,295.03 L614.56,295.04 L615.10,295.06 L615.63,295.07 L616.16,295.09 L616.70,295.10 L617.23,295.12 L617.76,295.13 L618.30,295.15 L618.83,295.16 L619.36,295.18 L619.90,295.19 L620.43,295.21 L620.96,295.22 L621.50,295.23 L622.03,295.25 L622.56,295.26 L623.10,295.27 L623.63,295.29 L624.16,295.30 L624.70,295.31 L625.23,295.32 L625.76,295.34 L626.30,295.35 L626.83,295.36 L627.36,295.37 L627.90,295.38 L628.43,295.39 L628.96,295.40 L629.50,295.41 L630.03,295.42 L630.56,295.43 L631.10,295.44 L631.63,295.45 L632.16,295.45 L632.70,295.46 L633.23,295.47 L633.76,295.48 L634.30,295.48 L634.83,295.49 L635.36,295.50 L635.90,295.50 L636.43,295.51 L636.96,295.51 L637.50,295.51 L638.03,295.52 L638.56,295.52 L639.10,295.52 L639.63,295.53 L640.16,295.53 L640.70,295.53 L641.23,295.53 L641.76,295.53 L642.30,295.53 L642.83,295.53 L643.36,295.53 L643.90,295.53 L644.43,295.52 L644.96,295.52 L645.50,295.52 L646.03,295.51 L646.56,295.51 L647.10,295.50 L647.63,295.50 L648.16,295.49" fill="none" stroke="#d95a50" stroke-width="1.0" stroke-linejoin="round"/>
<circle cx="488.70" cy="184.54" r="1.32" fill="#2a1010"/>
<circle cx="489.06" cy="185.38" r="1.32" fill="#2a1010"/>
<circle cx="489.41" cy="186.14" r="1.32" fill="#2a1010"/>
<circle cx="489.77" cy="186.84" r="1.32" fill="#2a1010"/>
<circle cx="490.12" cy="187.48" r="1.32" fill="#2a1010"/>
<circle cx="490.48" cy="188.08" r="1.32" fill="#2a1010"/>
<circle cx="490.83" cy="188.62" r="1.32" fill="#2a1010"/>
<circle cx="491.19" cy="189.13" r="1.32" fill="#2a1010"/>
<circle cx="491.54" cy="189.61" r="1.32" fill="#2a1010"/>
<circle cx="491.90" cy="190.06" r="1.32" fill="#2a1010"/>
<circle cx="492.25" cy="190.49" r="1.32" fill="#2a1010"/>
<circle cx="492.61" cy="190.91" r="1.32" fill="#2a1010"/>
<circle cx="492.96" cy="191.33" r="1.32" fill="#2a1010"/>
<circle cx="493.32" cy="191.74" r="1.32" fill="#2a1010"/>
<circle cx="493.67" cy="192.17" r="1.32" fill="#2a1010"/>
<circle cx="494.03" cy="192.60" r="1.32" fill="#2a1010"/>
<circle cx="494.38" cy="193.05" r="1.32" fill="#2a1010"/>
<circle cx="494.74" cy="193.53" r="1.32" fill="#2a1010"/>
<circle cx="495.09" cy="194.02" r="1.32" fill="#2a1010"/>
<circle cx="495.45" cy="194.54" r="1.32" fill="#2a1010"/>
<circle cx="495.80" cy="195.07" r="1.32" fill="#2a1010"/>
<circle cx="496.16" cy="195.64" r="1.32" fill="#2a1010"/>
<circle cx="496.51" cy="196.22" r="1.32" fill="#2a1010"/>
<circle cx="498.14" cy="199.28" r="1.32" fill="#2a1010"/>
<circle cx="499.76" cy="202.99" r="1.32" fill="#2a1010"/>
<circle cx="501.39" cy="207.27" r="1.32" fill="#2a1010"/>
<circle cx="503.02" cy="211.87" r="1.32" fill="#2a1010"/>
<circle cx="504.65" cy="216.59" r="1.32" fill="#2a1010"/>
<circle cx="506.27" cy="221.29" r="1.32" fill="#2a1010"/>
<circle cx="507.90" cy="225.94" r="1.32" fill="#2a1010"/>
<circle cx="509.53" cy="230.56" r="1.32" fill="#2a1010"/>
<circle cx="511.16" cy="235.13" r="1.32" fill="#2a1010"/>
<circle cx="512.78" cy="239.65" r="1.32" fill="#2a1010"/>
<circle cx="514.41" cy="244.12" r="1.32" fill="#2a1010"/>
<circle cx="516.04" cy="248.53" r="1.32" fill="#2a1010"/>
<circle cx="517.66" cy="252.86" r="1.32" fill="#2a1010"/>
<circle cx="519.29" cy="257.09" r="1.32" fill="#2a1010"/>
<circle cx="520.92" cy="261.15" r="1.32" fill="#2a1010"/>
<circle cx="522.55" cy="265.00" r="1.32" fill="#2a1010"/>
<circle cx="524.17" cy="268.60" r="1.32" fill="#2a1010"/>
<circle cx="525.80" cy="271.90" r="1.32" fill="#2a1010"/>
<circle cx="527.43" cy="274.85" r="1.32" fill="#2a1010"/>
<circle cx="529.05" cy="277.42" r="1.32" fill="#2a1010"/>
<circle cx="530.68" cy="279.63" r="1.32" fill="#2a1010"/>
<circle cx="532.31" cy="281.51" r="1.32" fill="#2a1010"/>
<circle cx="533.94" cy="283.10" r="1.32" fill="#2a1010"/>
<circle cx="535.56" cy="284.44" r="1.32" fill="#2a1010"/>
<circle cx="537.19" cy="285.56" r="1.32" fill="#2a1010"/>
<circle cx="538.82" cy="286.50" r="1.32" fill="#2a1010"/>
<circle cx="540.44" cy="287.30" r="1.32" fill="#2a1010"/>
<circle cx="542.07" cy="287.99" r="1.32" fill="#2a1010"/>
<circle cx="543.70" cy="288.61" r="1.32" fill="#2a1010"/>
<circle cx="545.33" cy="289.18" r="1.32" fill="#2a1010"/>
<circle cx="546.95" cy="289.71" r="1.32" fill="#2a1010"/>
<circle cx="548.58" cy="290.21" r="1.32" fill="#2a1010"/>
<circle cx="550.21" cy="290.67" r="1.32" fill="#2a1010"/>
<circle cx="551.83" cy="291.10" r="1.32" fill="#2a1010"/>
<circle cx="553.46" cy="291.49" r="1.32" fill="#2a1010"/>
<circle cx="555.09" cy="291.86" r="1.32" fill="#2a1010"/>
<circle cx="556.72" cy="292.19" r="1.32" fill="#2a1010"/>
<circle cx="558.34" cy="292.50" r="1.32" fill="#2a1010"/>
<circle cx="559.97" cy="292.77" r="1.32" fill="#2a1010"/>
<circle cx="561.60" cy="293.03" r="1.32" fill="#2a1010"/>
<circle cx="563.22" cy="293.26" r="1.32" fill="#2a1010"/>
<circle cx="564.85" cy="293.46" r="1.32" fill="#2a1010"/>
<circle cx="566.48" cy="293.65" r="1.32" fill="#2a1010"/>
<circle cx="568.11" cy="293.81" r="1.32" fill="#2a1010"/>
<circle cx="569.73" cy="293.96" r="1.32" fill="#2a1010"/>
<circle cx="571.36" cy="294.09" r="1.32" fill="#2a1010"/>
<circle cx="572.99" cy="294.20" r="1.32" fill="#2a1010"/>
<circle cx="574.61" cy="294.30" r="1.32" fill="#2a1010"/>
<circle cx="576.24" cy="294.38" r="1.32" fill="#2a1010"/>
<circle cx="577.87" cy="294.46" r="1.32" fill="#2a1010"/>
<circle cx="579.50" cy="294.52" r="1.32" fill="#2a1010"/>
<circle cx="581.12" cy="294.58" r="1.32" fill="#2a1010"/>
<circle cx="582.75" cy="294.62" r="1.32" fill="#2a1010"/>
<circle cx="584.38" cy="294.67" r="1.32" fill="#2a1010"/>
<circle cx="586.01" cy="294.70" r="1.32" fill="#2a1010"/>
<circle cx="587.63" cy="294.74" r="1.32" fill="#2a1010"/>
<circle cx="589.26" cy="294.77" r="1.32" fill="#2a1010"/>
<circle cx="590.89" cy="294.80" r="1.32" fill="#2a1010"/>
<circle cx="592.51" cy="294.84" r="1.32" fill="#2a1010"/>
<circle cx="594.14" cy="294.87" r="1.32" fill="#2a1010"/>
<circle cx="595.77" cy="294.91" r="1.32" fill="#2a1010"/>
<circle cx="597.40" cy="294.95" r="1.32" fill="#2a1010"/>
<circle cx="599.02" cy="295.00" r="1.32" fill="#2a1010"/>
<circle cx="600.65" cy="295.04" r="1.32" fill="#2a1010"/>
<circle cx="602.28" cy="295.08" r="1.32" fill="#2a1010"/>
<circle cx="603.90" cy="295.13" r="1.32" fill="#2a1010"/>
<circle cx="605.53" cy="295.18" r="1.32" fill="#2a1010"/>
<circle cx="607.16" cy="295.23" r="1.32" fill="#2a1010"/>
<circle cx="608.79" cy="295.27" r="1.32" fill="#2a1010"/>
<circle cx="610.41" cy="295.32" r="1.32" fill="#2a1010"/>
<circle cx="612.04" cy="295.37" r="1.32" fill="#2a1010"/>
<circle cx="613.67" cy="295.42" r="1.32" fill="#2a1010"/>
<circle cx="615.29" cy="295.46" r="1.32" fill="#2a1010"/>
<circle cx="616.92" cy="295.51" r="1.32" fill="#2a1010"/>
<circle cx="618.55" cy="295.56" r="1.32" fill="#2a1010"/>
<circle cx="620.18" cy="295.60" r="1.32" fill="#2a1010"/>
<circle cx="621.80" cy="295.64" r="1.32" fill="#2a1010"/>
<circle cx="623.43" cy="295.68" r="1.32" fill="#2a1010"/>
<circle cx="625.06" cy="295.72" r="1.32" fill="#2a1010"/>
<circle cx="626.68" cy="295.75" r="1.32" fill="#2a1010"/>
<circle cx="628.31" cy="295.79" r="1.32" fill="#2a1010"/>
<circle cx="629.94" cy="295.82" r="1.32" fill="#2a1010"/>
<circle cx="631.57" cy="295.85" r="1.32" fill="#2a1010"/>
<circle cx="633.19" cy="295.87" r="1.32" fill="#2a1010"/>
<circle cx="634.82" cy="295.89" r="1.32" fill="#2a1010"/>
<circle cx="636.45" cy="295.91" r="1.32" fill="#2a1010"/>
<circle cx="638.07" cy="295.92" r="1.32" fill="#2a1010"/>
<circle cx="639.70" cy="295.93" r="1.32" fill="#2a1010"/>
<circle cx="641.33" cy="295.93" r="1.32" fill="#2a1010"/>
</svg>
</body></html>
